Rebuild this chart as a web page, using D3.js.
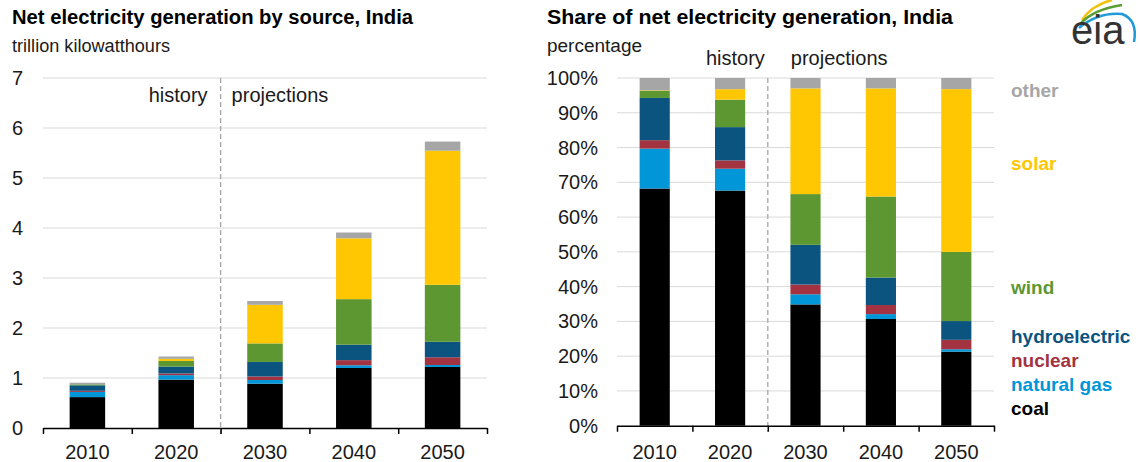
<!DOCTYPE html>
<html lang="en">
<head>
  <meta charset="utf-8">
  <script src="https://d3js.org/d3.v7.min.js"></script>
  <style>
    body { margin: 0; background: #fff; }
    text { font-family: "Liberation Sans", Arial, sans-serif; }
  </style>
</head>
<body>
<script>

  // years on the x axis
  const years = ["2010", "2020", "2030", "2040", "2050"];
  // series, bottom to top, trillion kilowatthours
  const sources = ["coal", "natural gas", "nuclear", "hydroelectric", "wind", "solar", "other"];
  const coal          = [0.618, 0.967, 0.886, 1.200, 1.220];
  const naturalGas    = [0.104, 0.090, 0.074, 0.055, 0.040];
  const nuclear       = [0.022, 0.034, 0.071, 0.102, 0.155];
  const hydroelectric = [0.110, 0.137, 0.290, 0.309, 0.309];
  const wind          = [0.019, 0.113, 0.371, 0.911, 1.140];
  const solar         = [0.001, 0.043, 0.772, 1.216, 2.682];
  const other         = [0.032, 0.046, 0.076, 0.117, 0.183];
  const leftTicks  = [0, 1, 2, 3, 4, 5, 6, 7];
  const rightTicks = [0, 0.1, 0.2, 0.3, 0.4, 0.5, 0.6, 0.7, 0.8, 0.9, 1];

  const colors = ["#000000", "#0096d7", "#a33340", "#0b5480", "#5d9732", "#ffc702", "#a6a6a6"];

  const series = [coal, naturalGas, nuclear, hydroelectric, wind, solar, other];
  const rows = years.map(function(y, i) {
    const r = { year: y };
    sources.forEach(function(s, k) { r[s] = series[k][i]; });
    return r;
  });

  const svg = d3.select("body").append("svg")
    .attr("width", 1140)
    .attr("height", 462);

  // draws one panel
  function panel(opt) {
    const g = svg.append("g");
    const x = d3.scaleBand().domain(years).range([opt.x0, opt.x1])
      .paddingInner(0.6).paddingOuter(0.3);
    const edge = d3.scaleLinear().domain([0, years.length]).range([opt.x0, opt.x1]);
    const y = d3.scaleLinear().domain(opt.domain).range([opt.yb, opt.yt]);

    const stack = d3.stack().keys(sources);
    if (opt.expand) stack.offset(d3.stackOffsetExpand);
    const layers = stack(rows);

    // title
    g.append("text").attr("x", opt.tx).attr("y", 24)
      .attr("font-size", "20px").attr("font-weight", "bold").attr("fill", "#000")
      .attr("textLength", opt.tw).attr("lengthAdjust", "spacingAndGlyphs")
      .text(opt.title);
    g.append("text").attr("x", opt.tx).attr("y", 52)
      .attr("font-size", "18px").attr("fill", "#1a1a1a")
      .attr("textLength", opt.uw).attr("lengthAdjust", "spacingAndGlyphs")
      .text(opt.unit);

    // grid
    g.selectAll(".grid").data(opt.ticks.slice(1)).enter().append("line")
      .attr("x1", opt.x0).attr("x2", opt.x1)
      .attr("y1", function(d) { return y(d); })
      .attr("y2", function(d) { return y(d); })
      .attr("stroke", "#d9d9d9").attr("stroke-width", 1);

    // y labels
    g.selectAll(".ylab").data(opt.ticks).enter().append("text")
      .attr("x", opt.lx)
      .attr("y", function(d) { return y(d); })
      .attr("dy", "0.35em")
      .attr("text-anchor", "end")
      .attr("font-size", "20px").attr("fill", "#1a1a1a")
      .text(opt.fmt);

    // bars
    g.selectAll(".layer").data(layers).enter().append("g")
      .attr("fill", function(d, i) { return colors[i]; })
      .selectAll("rect").data(function(d) { return d; }).enter().append("rect")
      .attr("x", function(d) { return x(d.data.year); })
      .attr("width", x.bandwidth())
      .attr("y", function(d) { return y(d[1]); })
      .attr("height", function(d) { return Math.max(0, y(d[0]) - y(d[1])); });

    // history / projections divider
    const xd = edge(2);
    g.append("line")
      .attr("x1", xd).attr("x2", xd)
      .attr("y1", opt.yt).attr("y2", opt.yb + 6)
      .attr("stroke", "#a6a6a6").attr("stroke-width", 1.3)
      .attr("stroke-dasharray", "5,3");
    g.append("text").attr("x", xd - opt.hl).attr("y", opt.hy)
      .attr("text-anchor", "end").attr("font-size", "20px").attr("fill", "#1a1a1a")
      .text("history");
    g.append("text").attr("x", xd + opt.hr).attr("y", opt.hy)
      .attr("font-size", "20px").attr("fill", "#1a1a1a")
      .text("projections");

    // x axis
    const ax = g.append("g")
      .attr("transform", "translate(0," + opt.yb + ")")
      .call(d3.axisBottom(edge).tickValues(d3.range(years.length + 1))
        .tickFormat("").tickSize(6).tickSizeOuter(0));
    ax.select(".domain").attr("stroke", "#000").attr("stroke-width", 1.5);
    ax.selectAll(".tick line").attr("stroke", "#000").attr("stroke-width", 1.5);

    g.selectAll(".xlab").data(years).enter().append("text")
      .attr("x", function(d) { return x(d) + x.bandwidth() / 2; })
      .attr("y", 459)
      .attr("text-anchor", "middle")
      .attr("font-size", "20px").attr("fill", "#1a1a1a")
      .text(function(d) { return d; });
  }

  panel({
    title: "Net electricity generation by source, India",
    unit: "trillion kilowatthours",
    tx: 12, tw: 401, uw: 158,
    x0: 43, x1: 487, yb: 428, yt: 78, lx: 23, hy: 102, hl: 13, hr: 11,
    domain: [0, 7], ticks: leftTicks, expand: false,
    fmt: function(d) { return d; }
  });

  panel({
    title: "Share of net electricity generation, India",
    unit: "percentage",
    tx: 547, tw: 406, uw: 95,
    x0: 617, x1: 994, yb: 425.7, yt: 78, lx: 598, hy: 65, hl: 3, hr: 23,
    domain: [0, 1], ticks: rightTicks, expand: true,
    fmt: d3.format(".0%")
  });

  // legend, top to bottom
  const legendY = [97, 170, 294, 343, 367, 391, 415];
  const legendOrder = [6, 5, 4, 3, 2, 1, 0];
  svg.selectAll(".leg").data(legendOrder).enter().append("text")
    .attr("x", 1011)
    .attr("y", function(d, i) { return legendY[i]; })
    .attr("font-size", "19px").attr("font-weight", "bold")
    .attr("fill", function(d) { return colors[d]; })
    .text(function(d) { return sources[d]; });

  // eia logo
  const logo = svg.append("g");
  logo.append("path").attr("d", "M1082,20 Q1092,5 1112,0")
    .attr("fill", "none").attr("stroke", "#f4c20d").attr("stroke-width", 2.5);
  logo.append("path").attr("d", "M1080,24 Q1094,9 1122,5")
    .attr("fill", "none").attr("stroke", "#5a9e34").attr("stroke-width", 2.5);
  logo.append("path").attr("d", "M1079,28 Q1098,12 1122,14 Q1138,20 1134,42")
    .attr("fill", "none").attr("stroke", "#1f9ad6").attr("stroke-width", 2.5);
  logo.append("text").attr("x", 1071).attr("y", 44)
    .attr("font-family", "'DejaVu Serif', serif")
    .attr("font-size", "40px").attr("fill", "#333")
    .text("eia");

</script>
</body>
</html>
